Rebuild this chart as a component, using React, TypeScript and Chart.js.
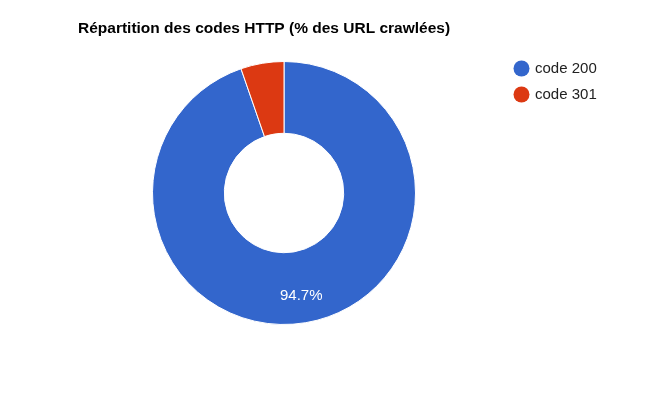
import React, { useEffect, useRef } from "react";
import { Chart, registerables } from "chart.js";

Chart.register(...registerables);

const titleText = "Répartition des codes HTTP (% des URL crawlées)";
const categories = ["code 200", "code 301"];
const values = [94.7, 5.3];
const colors = ["#3366CC", "#DC3912"];

const overlayPlugin = {
  id: "overlay",
  afterDraw(chart: any) {
    const ctx = chart.ctx;
    ctx.save();
    // title
    ctx.fillStyle = "#000000";
    ctx.font = "bold 15.5px 'Liberation Sans', Arial, sans-serif";
    ctx.textBaseline = "alphabetic";
    ctx.textAlign = "left";
    ctx.fillText(titleText, 78, 33);

    // legend
    ctx.textBaseline = "middle";
    const labels = chart.data.labels as string[];
    const bg = chart.data.datasets[0].backgroundColor as string[];
    ctx.font = "15px 'Liberation Sans', Arial, sans-serif";
    labels.forEach((lab, i) => {
      const y = 68.5 + i * 26;
      ctx.fillStyle = bg[i];
      ctx.beginPath();
      ctx.arc(521.5, y, 8, 0, Math.PI * 2);
      ctx.fill();
      ctx.fillStyle = "#222222";
      ctx.fillText(lab, 535, y + 0.5);
    });

    // slice labels
    const meta = chart.getDatasetMeta(0);
    const data = chart.data.datasets[0].data as number[];
    const total = data.reduce((a, b) => a + b, 0);
    ctx.font = "15px 'Liberation Sans', Arial, sans-serif";
    ctx.textAlign = "center";
    ctx.fillStyle = "#ffffff";
    meta.data.forEach((arc: any, i: number) => {
      const pct = (data[i] / total) * 100;
      if (pct < 10) return;
      const { x, y, startAngle, endAngle, innerRadius, outerRadius } = arc.getProps(
        ["x", "y", "startAngle", "endAngle", "innerRadius", "outerRadius"],
        true
      );
      const mid = (startAngle + endAngle) / 2;
      const r = innerRadius + (outerRadius - innerRadius) * 0.62;
      ctx.fillText(pct.toFixed(1) + "%", x + Math.cos(mid) * r, y + Math.sin(mid) * r);
    });
    ctx.restore();
  },
};

export default function App() {
  const ref = useRef<HTMLCanvasElement | null>(null);
  useEffect(() => {
    if (!ref.current) return;
    const chart = new Chart(ref.current, {
      type: "doughnut",
      data: {
        labels: categories,
        datasets: [
          {
            data: values,
            backgroundColor: colors,
            borderColor: "#ffffff",
            borderWidth: 1,
          },
        ],
      },
      options: {
        animation: false,
        responsive: false,
        cutout: "45.4%",
        layout: { padding: { left: 152, right: 245, top: 61, bottom: 74 } },
        plugins: {
          legend: { display: false },
          title: { display: false },
          tooltip: { enabled: false },
        },
      },
      plugins: [overlayPlugin],
    });
    return () => chart.destroy();
  }, []);
  return (
    <div style={{ position: "absolute", left: 0, top: 0, width: 661, height: 399, background: "#ffffff" }}>
      <canvas ref={ref} width={661} height={399} style={{ width: 661, height: 399 }} />
    </div>
  );
}
